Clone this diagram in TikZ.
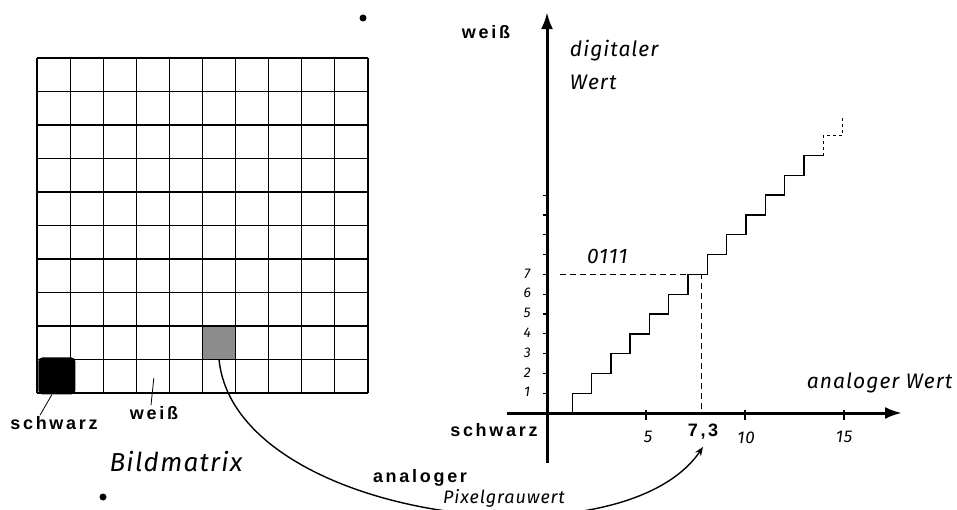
\documentclass[tikz,border=0pt]{standalone}
\usepackage{fontspec}
\usetikzlibrary{arrows.meta,positioning}
\newfontfamily\labfont{Liberation Sans}[LetterSpace=15]
\newfontfamily\handfont{Fira Sans}[LetterSpace=5]
\definecolor{ink}{RGB}{0,0,0}
\definecolor{pixgray}{RGB}{140,140,140}
\tikzset{
  gridln/.style={line width=1.1pt,draw=ink},
  axis/.style={line width=3pt,draw=ink,-{Latex[length=17pt,width=12pt]}},
  tick/.style={line width=1.2pt,draw=ink},
  stair/.style={line width=1.4pt,draw=ink},
  guide/.style={line width=1pt,draw=ink,dash pattern=on 6pt off 4pt},
  lead/.style={line width=0.8pt,draw=ink},
  curve/.style={line width=1.4pt,draw=ink,-{Stealth[length=9pt,width=7pt]}},
  lab/.style={font=\labfont\bfseries\fontsize{18}{20}\selectfont,inner sep=1pt},
  hand/.style={font=\handfont\itshape\fontsize{21}{24}\selectfont,inner sep=1pt},
  num/.style={font=\handfont\itshape\fontsize{17}{19}\selectfont,inner sep=1pt},
  dot/.style={circle,fill=ink,inner sep=0pt,minimum size=7pt},
  graypix/.style={fill=pixgray,minimum width=33.1pt,minimum height=33.5pt,inner sep=0pt},
  blackpix/.style={fill=ink,rounded corners=4pt,minimum size=37pt,inner sep=0pt},
}
\begin{document}
\begin{tikzpicture}[x=1pt,y=1pt]
  \useasboundingbox (0,0) rectangle (957,509);
  % Bildmatrix
  \begin{scope}[shift={(37,116)},x=33.1pt,y=33.5pt]
    \node[graypix] (gray) at (5.5,1.5) {};
    \foreach \i in {0,...,10} {
      \draw[gridln] (\i,0) -- (\i,10);
      \draw[gridln] (0,\i) -- (10,\i);
    }
    \node[blackpix] (black) at (0.6,0.51) {};
    \coordinate (white) at (3.53,0.45);
  \end{scope}
  \node[lab] (schwarzL) at (54,86) {schwarz};
  \node[lab] (weissL) at (154,96) {weiß};
  \draw[lead] ([xshift=-14pt]schwarzL.north) -- ([xshift=-5pt]black.south);
  \draw[lead] ([xshift=-3pt]weissL.north) -- (white);
  \node[hand,font=\handfont\itshape\fontsize{26}{28}\selectfont] (bild) at (176,47) {Bildmatrix};
  \node[dot] (dotA) at (363,491) {};
  \node[dot] (dotB) at (103,12) {};
  % Kennlinie
  \begin{scope}[shift={(547,96)},x=19.8pt,y=19.8pt]
    \coordinate (ybot) at (0,-2.5);
    \coordinate (ytop) at (0,20.25);
    \coordinate (xleft) at (-2,0);
    \coordinate (xright) at (17.93,0);
    \draw[axis] (ybot) -- (ytop);
    \draw[axis] (xleft) -- (xright);
    \foreach \k in {1,...,11} \draw[tick] (-0.22,\k) -- (0,\k);
    \foreach \k in {1,...,7} \node[num,font=\handfont\itshape\fontsize{14}{16}\selectfont] (ny\k) at (-1,\k+0.05) {\k};
    \foreach \k in {5,10,15} \draw[tick] (\k,-0.35) -- (\k,0.15);
    \node[num] (nx5) at (5.1,-1.2) {5};
    \node[num] (nx10) at (10.05,-1.25) {10};
    \node[num] (nx15) at (15,-1.2) {15};
    \draw[stair] (1.275,0) \foreach \k in {1,...,13} { -- ++(0,1) -- ++(0.975,0) } coordinate (stepend);
    \draw[stair,dash pattern=on 3pt off 3pt] (stepend) -- ++(0,1) -- ++(0.975,0) -- ++(0,1);
    \coordinate (q7) at (7.78,7);
    \draw[guide] (0.65,7) -- (q7) -- (7.78,0);
    \node[lab] (weissA) at (-3.08,19.24) {weiß};
    \node[lab] (schwarzA) at (-2.68,-0.86) {schwarz};
    \node[hand,anchor=west] (digi) at (1.1,18.3) {digitaler};
    \node[hand,anchor=west] (wert) at (1.1,16.7) {Wert};
    \node[hand] (anaW) at (16.8,1.5) {analoger Wert};
    \node[hand] (code) at (3.05,7.9) {0111};
    \node[lab] (v73) at (7.88,-0.96) {7,3};
  \end{scope}
  \node[lab] (anaL) at (420,31) {analoger};
  \node[num,font=\handfont\itshape\fontsize{18}{20}\selectfont] (pix) at (504,11) {Pixelgrauwert};
  \draw[curve] (gray.south) .. controls (235,-10) and (620,-60) .. ([yshift=-6pt]v73.south);
\end{tikzpicture}
\end{document}
